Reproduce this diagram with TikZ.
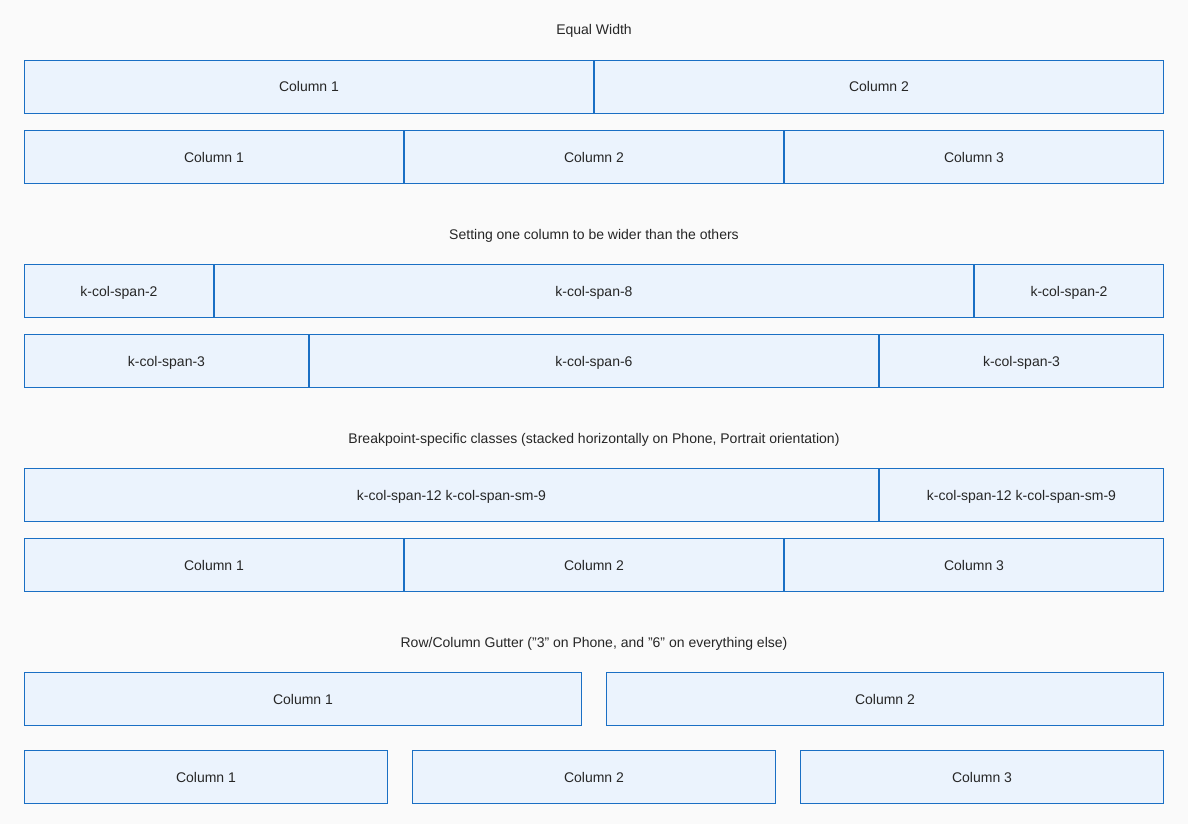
\documentclass[tikz,border=0pt]{standalone}
\usepackage{fontspec}
\setmainfont{Liberation Sans}[Ligatures=ResetAll]
\definecolor{pagebg}{HTML}{FAFAFA}
\definecolor{cellfill}{HTML}{EBF3FD}
\definecolor{cellline}{HTML}{1A6FC4}
\definecolor{ink}{HTML}{262626}
\tikzset{
  cell/.style={draw=cellline, fill=cellfill, line width=1pt, anchor=north west,
    inner sep=0pt, outer sep=0pt, minimum height=53pt, text=ink,
    text height=10pt, text depth=0pt,
    font=\fontsize{14pt}{16pt}\selectfont},
  heading/.style={text=ink, inner sep=0pt, text height=10pt, text depth=0pt,
    font=\fontsize{14pt}{16pt}\selectfont}
}
% \cellbox{name}{left}{top}{width}{label}, in pixel units
\newcommand{\cellbox}[5]{%
  \node[cell, minimum width=#4pt-1pt] (#1) at (#2+0.5, #3+0.5) {#5};}
\begin{document}
\begin{tikzpicture}[x=1pt, y=-1pt]
  \fill[pagebg] (0,0) rectangle (1188,824);
  \useasboundingbox (0,0) rectangle (1188,824);

  % Equal width
  \node[heading] (t1) at (594,30) {Equal Width};
  \cellbox{a1}{24}{60}{570}{Column 1}
  \cellbox{a2}{594}{60}{570}{Column 2}
  \cellbox{b1}{24}{130}{380}{Column 1}
  \cellbox{b2}{404}{130}{380}{Column 2}
  \cellbox{b3}{784}{130}{380}{Column 3}

  % One wider column
  \node[heading] (t2) at (594,234) {Setting one column to be wider than the others};
  \cellbox{c1}{24}{264}{190}{k-col-span-2}
  \cellbox{c2}{214}{264}{760}{k-col-span-8}
  \cellbox{c3}{974}{264}{190}{k-col-span-2}
  \cellbox{d1}{24}{334}{285}{k-col-span-3}
  \cellbox{d2}{309}{334}{570}{k-col-span-6}
  \cellbox{d3}{879}{334}{285}{k-col-span-3}

  % Breakpoint classes
  \node[heading] (t3) at (594,438) {Breakpoint-specific classes (stacked horizontally on Phone, Portrait orientation)};
  \cellbox{e1}{24}{468}{855}{k-col-span-12 k-col-span-sm-9}
  \cellbox{e2}{879}{468}{285}{k-col-span-12 k-col-span-sm-9}
  \cellbox{f1}{24}{538}{380}{Column 1}
  \cellbox{f2}{404}{538}{380}{Column 2}
  \cellbox{f3}{784}{538}{380}{Column 3}

  % Gutters
  \node[heading] (t4) at (594,642) {Row/Column Gutter ("3" on Phone, and "6" on everything else)};
  \cellbox{g1}{24}{672}{558}{Column 1}
  \cellbox{g2}{606}{672}{558}{Column 2}
  \cellbox{h1}{24}{750}{364}{Column 1}
  \cellbox{h2}{412}{750}{364}{Column 2}
  \cellbox{h3}{800}{750}{364}{Column 3}
\end{tikzpicture}
\end{document}
